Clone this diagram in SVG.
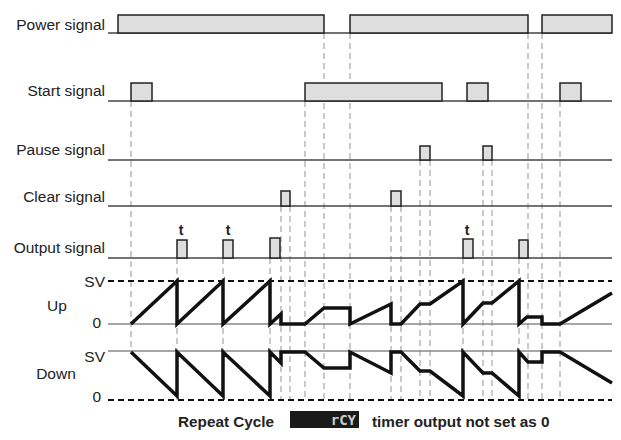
<svg xmlns="http://www.w3.org/2000/svg" width="621" height="440" viewBox="0 0 621 440">
<style>
text{font-family:"Liberation Sans",Arial,sans-serif;fill:#222}
.lbl{font-size:15.5px;text-anchor:end}
.b{font-weight:bold}
.base{stroke:#444;stroke-width:1.5;fill:none}
.box{fill:#dedede;stroke:#222;stroke-width:1.5}
.guide{stroke:#b8b8b8;stroke-width:1.5;stroke-dasharray:6 4;fill:none}
.dash{stroke:#111;stroke-width:2;stroke-dasharray:6 4;fill:none}
.gray{stroke:#888;stroke-width:1.5;fill:none}
.wave{stroke:#111;stroke-width:3.5;fill:none;stroke-linejoin:miter}
</style>
<rect width="621" height="440" fill="#fff"/>
<g id="connectors">
<line class="guide" x1="131" y1="101" x2="131" y2="351"/>
<line class="guide" x1="177" y1="258" x2="177" y2="400"/>
<line class="guide" x1="223" y1="258" x2="223" y2="400"/>
<line class="guide" x1="270" y1="258" x2="270" y2="400"/>
<line class="guide" x1="281" y1="206" x2="281" y2="400"/>
<line class="guide" x1="290" y1="206" x2="290" y2="400"/>
<line class="guide" x1="305" y1="101" x2="305" y2="400"/>
<line class="guide" x1="324" y1="33" x2="324" y2="400"/>
<line class="guide" x1="350" y1="33" x2="350" y2="400"/>
<line class="guide" x1="391" y1="206" x2="391" y2="400"/>
<line class="guide" x1="401" y1="206" x2="401" y2="400"/>
<line class="guide" x1="420" y1="160" x2="420" y2="400"/>
<line class="guide" x1="430" y1="160" x2="430" y2="400"/>
<line class="guide" x1="463" y1="258" x2="463" y2="400"/>
<line class="guide" x1="483" y1="160" x2="483" y2="400"/>
<line class="guide" x1="492" y1="160" x2="492" y2="400"/>
<line class="guide" x1="519" y1="258" x2="519" y2="400"/>
<line class="guide" x1="528" y1="33" x2="528" y2="400"/>
<line class="guide" x1="542" y1="33" x2="542" y2="400"/>
<line class="guide" x1="560" y1="101" x2="560" y2="400"/>
</g>
<g id="power">
<text class="lbl" x="105" y="30">Power signal</text>
<line class="base" x1="108" y1="33" x2="612" y2="33"/>
<rect class="box" x="118" y="15" width="206" height="18"/>
<rect class="box" x="350" y="15" width="178" height="18"/>
<rect class="box" x="542" y="15" width="70" height="18"/>
</g>
<g id="start">
<text class="lbl" x="105" y="96">Start signal</text>
<line class="base" x1="108" y1="101" x2="612" y2="101"/>
<rect class="box" x="131" y="83" width="21" height="18"/>
<rect class="box" x="305" y="83" width="137" height="18"/>
<rect class="box" x="467" y="83" width="21" height="18"/>
<rect class="box" x="560" y="83" width="21" height="18"/>
</g>
<g id="pause">
<text class="lbl" x="105" y="155">Pause signal</text>
<line class="base" x1="108" y1="160" x2="612" y2="160"/>
<rect class="box" x="420" y="146" width="10" height="14"/>
<rect class="box" x="483" y="146" width="9" height="14"/>
</g>
<g id="clear">
<text class="lbl" x="105" y="202">Clear signal</text>
<line class="base" x1="108" y1="206" x2="612" y2="206"/>
<rect class="box" x="281" y="191" width="9" height="15"/>
<rect class="box" x="391" y="191" width="10" height="15"/>
</g>
<g id="output">
<text class="lbl" x="105" y="253">Output signal</text>
<line class="base" x1="108" y1="258" x2="612" y2="258"/>
<rect class="box" x="177" y="240" width="10" height="18"/>
<rect class="box" x="223" y="240" width="10" height="18"/>
<rect class="box" x="270" y="238" width="10" height="20"/>
<rect class="box" x="463" y="239" width="10" height="19"/>
<rect class="box" x="519" y="240" width="9" height="18"/>
<text class="b" x="181" y="235" font-size="14" text-anchor="middle">t</text>
<text class="b" x="228" y="235" font-size="14" text-anchor="middle">t</text>
<text class="b" x="467" y="235" font-size="14" text-anchor="middle">t</text>
</g>
<g id="up">
<text class="lbl" x="105" y="287">SV</text>
<text x="57" y="311" font-size="15.5" text-anchor="middle">Up</text>
<text class="lbl" x="101" y="328">0</text>
<line class="dash" x1="108" y1="281" x2="612" y2="281"/>
<line class="gray" x1="108" y1="324" x2="612" y2="324"/>
<polyline class="wave" points="131,324 177,281 177,324 223,281 223,324 270,281 270,324 281,314 281,324 305,324 324,308 350,308 350,324 391,304 391,324 401,324 420,304 430,304 463,281 463,324 483,303 492,303 519,281 519,324 527,317 542,317 542,324 560,324 612,293"/>
</g>
<g id="down">
<text class="lbl" x="105" y="362">SV</text>
<text x="56" y="379" font-size="15.5" text-anchor="middle">Down</text>
<text class="lbl" x="101" y="402">0</text>
<line class="gray" x1="108" y1="351" x2="612" y2="351"/>
<line class="dash" x1="108" y1="400" x2="612" y2="400"/>
<polyline class="wave" points="131,352 177,396 177,352 223,396 223,352 270,396 270,352 281,363 281,352 305,352 324,368 350,368 350,352 391,373 391,352 401,352 420,371 430,371 463,396 463,352 483,373 492,373 519,396 519,352 528,362 542,362 542,352 560,352 612,383"/>
</g>
<g id="legend">
<text class="b" x="178" y="427" font-size="15.3">Repeat Cycle</text>
<rect x="290" y="411" width="69" height="17" fill="#1a1a1a"/>
<text x="356" y="425" font-size="14" font-weight="bold" text-anchor="end" style="font-family:'DejaVu Sans Mono',monospace;fill:#ccc">rCY</text>
<text class="b" x="372" y="427" font-size="15.3">timer output not set as 0</text>
</g>
</svg>
